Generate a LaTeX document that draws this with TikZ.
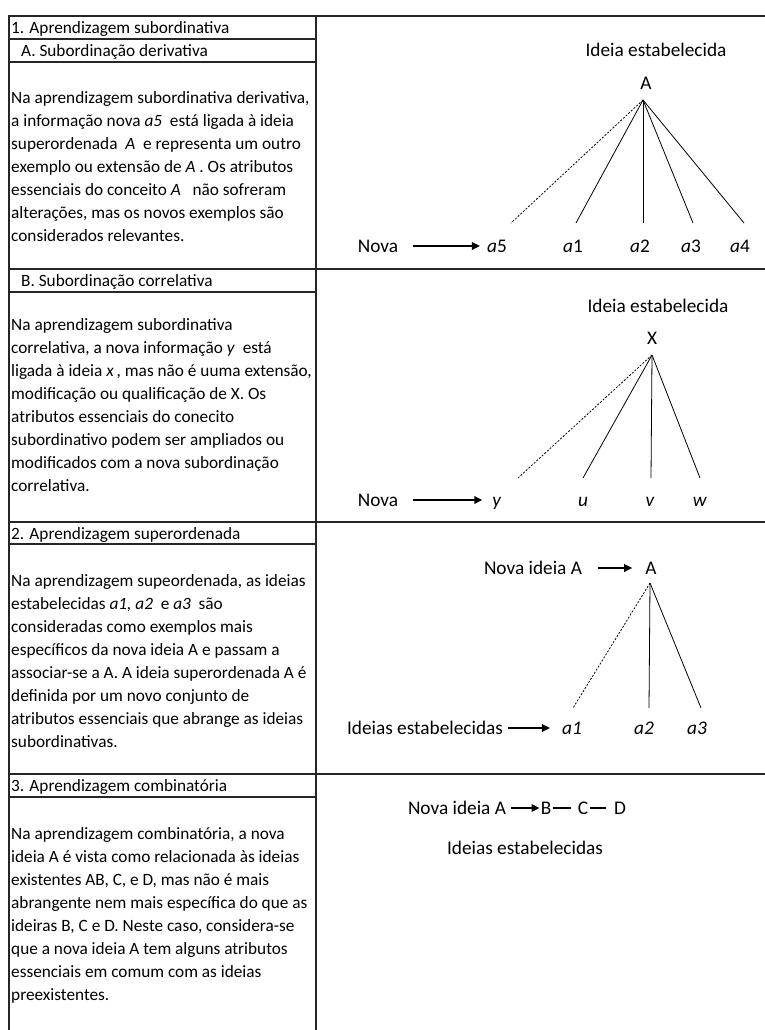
\documentclass[tikz,border=0pt]{standalone}
\usepackage{fontspec}
\setmainfont{Carlito}
\usetikzlibrary{arrows.meta}
\begin{document}
\begin{tikzpicture}[x=1pt,y=-1pt,
  frame/.style={line width=1.1pt, draw=black!85},
  para/.style={anchor=north west, inner sep=0pt, align=left, font=\fontsize{17.25}{23}\selectfont},
  hdr/.style={anchor=base west, inner sep=0pt, font=\fontsize{17.25}{23}\selectfont},
  lbl/.style={inner sep=0pt, text height=12.4pt, text depth=0pt, font=\fontsize{19.3}{23}\selectfont},
  tree/.style={line width=0.8pt},
  newlink/.style={line width=0.8pt, dash pattern=on 2pt off 1.6pt},
  arr/.style={line width=1.8pt, -{Triangle[length=8pt,width=7.5pt]}},
  bond/.style={line width=2.6pt}]
\useasboundingbox (0,0) rectangle (765,1030);
\fill[white] (0,0) rectangle (765,1030);

% table frame
\draw[frame] (9,1030) -- (9,16) -- (765,16);
\draw[frame] (316,16) -- (316,1030);
\draw[frame] (9,39) -- (316,39);
\draw[frame] (9,62) -- (316,62);
\draw[frame] (9,269) -- (765,269);
\draw[frame] (9,292) -- (316,292);
\draw[frame] (9,522) -- (765,522);
\draw[frame] (9,544) -- (316,544);
\draw[frame] (9,774) -- (765,774);
\draw[frame] (9,797) -- (316,797);

% row headers
\node[hdr] (h1)  at (11,33.5)  {1. Aprendizagem subordinativa};
\node[hdr] (h1a) at (21,56.5)  {A. Subordinação derivativa};
\node[hdr] (h1b) at (21,286.5) {B. Subordinação correlativa};
\node[hdr] (h2)  at (11,539)   {2. Aprendizagem superordenada};
\node[hdr] (h3)  at (11,791.5) {3. Aprendizagem combinatória};

% descriptions
\node[para] (p1) at (11,86.9) {\strut Na aprendizagem subordinativa derivativa,\\
a informação nova \textit{a5}\ \ está ligada à ideia\\
superordenada \ \textit{A}\ \ e representa um outro\\
exemplo ou extensão de \textit{A} . Os atributos\\
essenciais do conceito \textit{A}\ \ \ não sofreram\\
alterações, mas os novos exemplos são\\
considerados relevantes.};

\node[para] (p2) at (11,313.9) {\strut Na aprendizagem subordinativa\\
correlativa, a nova informação \textit{y}\ \ está\\
ligada à ideia \textit{x}\,, mas não é uuma extensão,\\
modificação ou qualificação de X. Os\\
atributos essenciais do conecito\\
subordinativo podem ser ampliados ou\\
modificados com a nova subordinação\\
correlativa.};

\node[para] (p3) at (11,569.9) {\strut Na aprendizagem supeordenada, as ideias\\
estabelecidas \textit{a1, a2}\ \ e \textit{a3}\ \ são\\
consideradas como exemplos mais\\
específicos da nova ideia A e passam a\\
associar-se a A. A ideia superordenada A é\\
definida por um novo conjunto de\\
atributos essenciais que abrange as ideias\\
subordinativas.};

\node[para] (p4) at (11,822.9) {\strut Na aprendizagem combinatória, a nova\\
ideia A é vista como relacionada às ideias\\
existentes AB, C, e D, mas não é mais\\
abrangente nem mais específica do que as\\
ideiras B, C e D. Neste caso, considera-se\\
que a nova ideia A tem alguns atributos\\
essenciais em comum com as ideias\\
preexistentes.};

% 1A: derivative subordination
\node[lbl] (e1) at (656,50) {Ideia estabelecida};
\node[lbl] (A1) at (646,83) {A};
\coordinate (t1) at (643,100);
\node[lbl] (n1) at (378,246) {Nova};
\node[lbl] (a5) at (497,246) {\textit{a}5};
\node[lbl] (a1) at (573,246) {\textit{a}1};
\node[lbl] (a2) at (640,246) {\textit{a}2};
\node[lbl] (a3) at (691,246) {\textit{a}3};
\node[lbl] (a4) at (740,246) {\textit{a}4};
\coordinate (l5) at (511,223);
\coordinate (l1) at (576,223);
\coordinate (l2) at (643,223);
\coordinate (l3) at (693,223);
\coordinate (l4) at (744,223);
\draw[newlink] (t1) -- (l5);
\draw[tree] (t1) -- (l1);
\draw[tree] (t1) -- (l2);
\draw[tree] (t1) -- (l3);
\draw[tree] (t1) -- (l4);
\draw[arr] ([xshift=15pt]n1.east) -- ([xshift=-7pt]a5.west);

% 1B: correlative subordination
\node[lbl] (e2) at (658,306) {Ideia estabelecida};
\node[lbl] (X2) at (652,338) {X};
\coordinate (t2) at (652,355);
\node[lbl] (n2) at (378,500) {Nova};
\node[lbl] (y2) at (497,500) {\textit{y}};
\node[lbl] (u2) at (583,500) {\textit{u}};
\node[lbl] (v2) at (650,500) {\textit{v}};
\node[lbl] (w2) at (700,500) {\textit{w}};
\coordinate (ly) at (518,478);
\coordinate (lu) at (583,478);
\coordinate (lv) at (651,478);
\coordinate (lw) at (700,478);
\draw[newlink] (t2) -- (ly);
\draw[tree] (t2) -- (lu);
\draw[tree] (t2) -- (lv);
\draw[tree] (t2) -- (lw);
\draw[arr] ([xshift=15pt]n2.east) -- ([xshift=-10pt]y2.west);

% 2: superordinate learning
\node[lbl] (n3) at (533,568) {Nova ideia A};
\node[lbl] (A3) at (651,568) {A};
\coordinate (t3) at (650,583);
\node[lbl] (s3) at (425,728) {Ideias estabelecidas};
\node[lbl] (b1) at (572,728) {\textit{a1}};
\node[lbl] (b2) at (644,728) {\textit{a2}};
\node[lbl] (b3) at (697,728) {\textit{a3}};
\coordinate (m1) at (573,708);
\coordinate (m2) at (649,708);
\coordinate (m3) at (701,708);
\draw[newlink] (t3) -- (m1);
\draw[tree] (t3) -- (m2);
\draw[tree] (t3) -- (m3);
\draw[arr] ([xshift=16pt]n3.east) -- ([xshift=-13pt]A3.west);
\draw[arr] ([xshift=5pt]s3.east) -- ([xshift=-12pt]b1.west);

% 3: combinatorial learning
\node[lbl] (n4) at (457,808) {Nova ideia A};
\node[lbl] (B4) at (546,808) {B};
\node[lbl] (C4) at (583,808) {C};
\node[lbl] (D4) at (620,808) {D};
\node[lbl] (s4) at (525,848) {Ideias estabelecidas};
\draw[arr] ([xshift=5pt]n4.east) -- ([xshift=-1pt]B4.west);
\draw[bond] ([xshift=2pt]B4.east) -- ([xshift=-7pt]C4.west);
\draw[bond] ([xshift=2pt]C4.east) -- ([xshift=-8pt]D4.west);
\end{tikzpicture}
\end{document}
